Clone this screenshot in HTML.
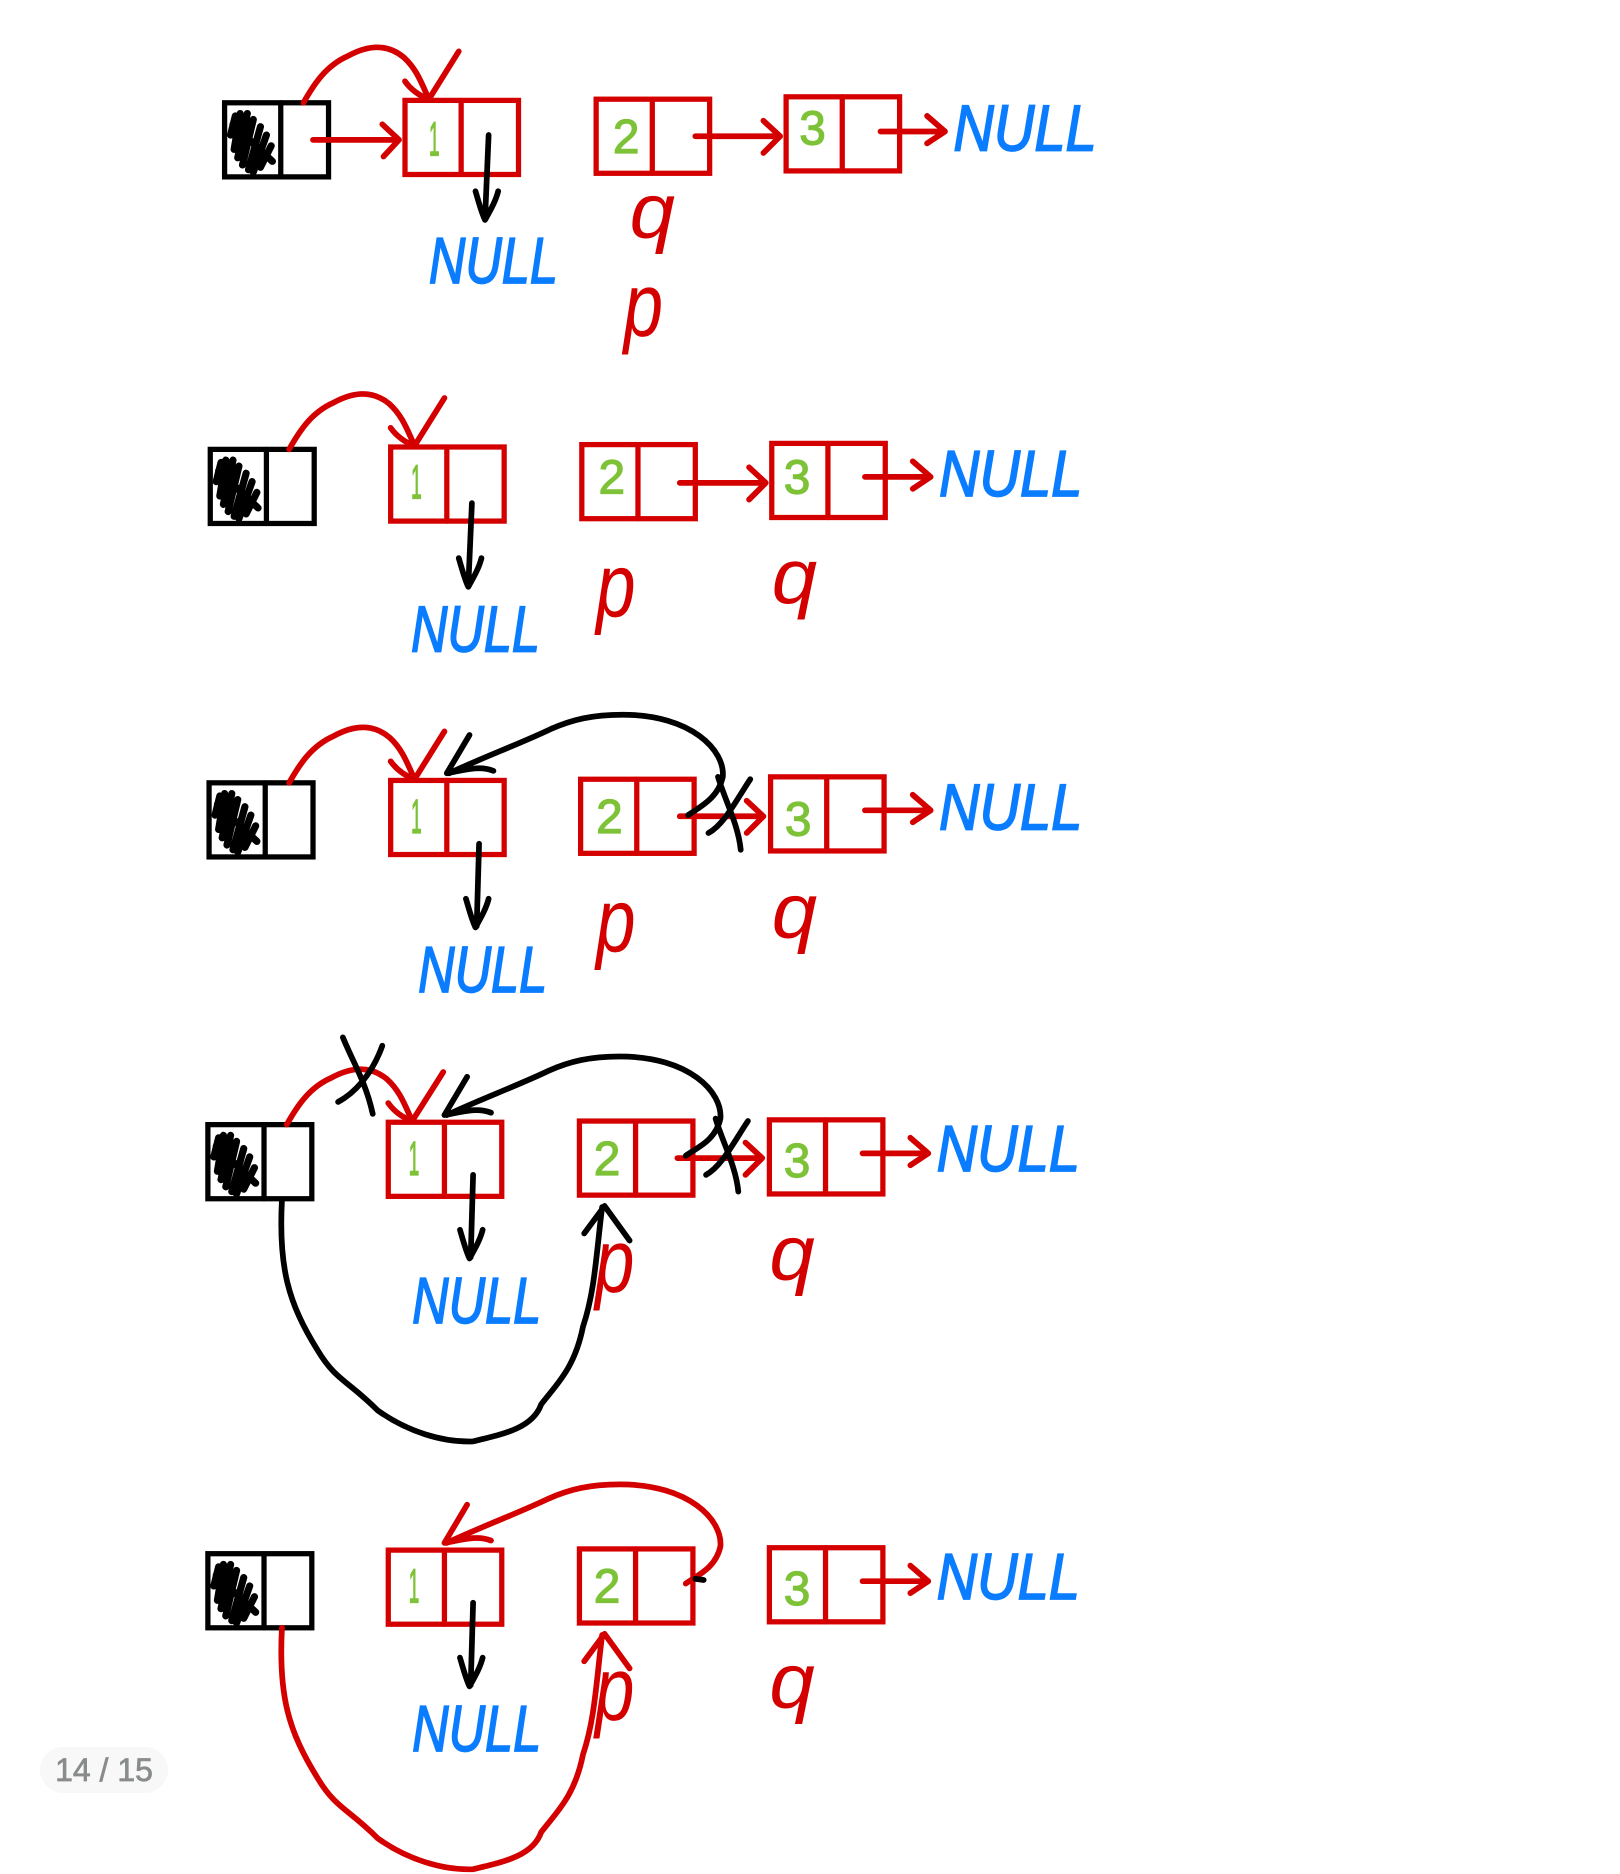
<!DOCTYPE html>
<html><head><meta charset="utf-8"><style>
html,body{margin:0;padding:0;background:#fff;width:1620px;height:1874px;overflow:hidden;position:relative}
svg{position:absolute;left:0;top:0}
.pill{position:absolute;left:40px;top:1747px;width:128px;height:46px;border-radius:23px;background:#f8f8f8;color:#888c8a;font:32px/46px "Liberation Sans",sans-serif;text-align:center;-webkit-text-stroke:.7px #888c8a}
.r,.k{fill:none;stroke-linecap:round;stroke-linejoin:round}
.r{stroke:#d40000;stroke-width:4.8}
.k{stroke:#000;stroke-width:4.8}
.n{font:italic 54px "Liberation Sans",sans-serif;fill:#0a7cff;stroke:#0a7cff;stroke-width:1.4}
.d{font:40px "Liberation Sans",sans-serif;fill:#7dc237;stroke:#7dc237;stroke-width:1}
.l{font:italic 75px "Liberation Sans",sans-serif;fill:#d40000}
.q{font-size:65px}
.b{fill:#fff;stroke:#000;stroke-width:4.4}
.x{fill:#fff;stroke:#d40000;stroke-width:4.4}
</style></head><body>
<svg width="1620" height="1874" viewBox="0 0 1356 1568" preserveAspectRatio="none" xmlns="http://www.w3.org/2000/svg">
<defs>
<g id="sc"><path d="M197 97 L193 113 M201 95 L196 125 M207 95 L199 132 M212 100 L203 138 M218 106 L208 142 M223 113 L212 144 M227 122 L218 140 M195 104L228 135" fill="none" stroke="#000" stroke-width="6" stroke-linecap="round"/></g>
<g id="bl"><rect class="b" x="188" y="86" width="87" height="62"/><path class="k" style="stroke-width:4.4" d="M235 86V148"/><use href="#sc"/></g>
<g id="nd"><rect class="x" x="0" y="0" width="95" height="62"/><path class="r" style="stroke-width:4.4" d="M47 0V62"/></g>
</defs>
<g transform="translate(1,0)">
<!-- Panel 1 -->
<use href="#bl" x="-1"/>
<use href="#nd" x="338" y="84"/><use href="#nd" x="498" y="83"/><use href="#nd" x="657" y="81"/>
<path class="r" d="M253 86C262 70 272 55 290 47C310 36 325 38 337 48C348 58 352 70 358 83M338 68C343 75 350 80 358 83M383 43L358 83"/>
<path class="r" d="M261 117H332M319 104L333 117L320 131"/>
<path class="r" d="M581 114H650M638 101L652 114L638 128"/>
<path class="r" d="M736 110H788M775 97L790 110L775 120"/>
<path class="k" d="M408 113L405 183M397 160C400 170 402 178 405 184C410 175 414 168 416 160"/>
<text class="d" x="358" y="130" textLength="9" lengthAdjust="spacingAndGlyphs">1</text><text class="d" x="512" y="128">2</text><text class="d" x="668" y="121">3</text>
<text class="n" x="797" y="126" textLength="120" lengthAdjust="spacingAndGlyphs">NULL</text>
<text class="n" x="358" y="237" textLength="108" lengthAdjust="spacingAndGlyphs">NULL</text>
<text class="l q" x="526" y="199" textLength="38" lengthAdjust="spacingAndGlyphs">q</text>
<text class="l" x="521" y="281" textLength="33" lengthAdjust="spacingAndGlyphs">p</text>

<!-- Panel 2 -->
<use href="#bl" x="-13" y="290"/>
<use href="#nd" x="326" y="374"/><use href="#nd" x="486" y="372"/><use href="#nd" x="645" y="371"/>
<path class="r" d="M241 376C250 360 260 345 278 337C298 326 313 328 325 338C336 348 340 360 346 373M326 358C331 365 338 370 346 373M371 333L346 373"/>
<path class="r" d="M568 404H638M626 391L640 404L626 418"/>
<path class="r" d="M723 399H776M763 386L778 399L763 409"/>
<path class="k" d="M394 421L391 490M383 467C386 477 388 485 391 491C396 482 400 475 402 467"/>
<text class="d" x="343" y="417" textLength="9" lengthAdjust="spacingAndGlyphs">1</text><text class="d" x="500" y="413">2</text><text class="d" x="655" y="413">3</text>
<text class="n" x="785" y="415" textLength="120" lengthAdjust="spacingAndGlyphs">NULL</text>
<text class="n" x="343" y="545" textLength="108" lengthAdjust="spacingAndGlyphs">NULL</text>
<text class="l" x="498" y="516" textLength="33" lengthAdjust="spacingAndGlyphs">p</text>
<text class="l q" x="645" y="505" textLength="38" lengthAdjust="spacingAndGlyphs">q</text>

<!-- Panel 3 -->
<use href="#bl" x="-14" y="569"/>
<use href="#nd" x="326" y="653"/><use href="#nd" x="485" y="652"/><use href="#nd" x="644" y="650"/>
<path class="r" d="M241 655C250 639 260 624 278 616C298 605 313 607 325 617C336 627 340 639 346 652M326 637C331 644 338 649 346 652M371 612L346 652"/>
<path class="r" d="M568 683H635M624 670L638 683L624 697"/>
<path class="r" d="M723 678H776M763 665L778 678L763 688"/>
<path class="k" d="M400 706L398 775M389 752C392 762 394 770 397 776C402 767 406 760 408 752"/>
<path class="k" d="M575 682C585 675 600 668 604 650C606 628 578 598 520 598C495 598 478 602 460 610C435 622 400 635 375 647M392 615L373 647C385 645 400 640 412 645M600 650C606 670 617 690 619 711M627 652C615 670 605 690 592 697"/>
<text class="d" x="343" y="697" textLength="9" lengthAdjust="spacingAndGlyphs">1</text><text class="d" x="498" y="697">2</text><text class="d" x="656" y="699">3</text>
<text class="n" x="785" y="694" textLength="120" lengthAdjust="spacingAndGlyphs">NULL</text>
<text class="n" x="349" y="830" textLength="108" lengthAdjust="spacingAndGlyphs">NULL</text>
<text class="l" x="498" y="796" textLength="33" lengthAdjust="spacingAndGlyphs">p</text>
<text class="l q" x="645" y="785" textLength="38" lengthAdjust="spacingAndGlyphs">q</text>

<!-- Panel 4 -->
<use href="#bl" x="-15" y="855"/>
<use href="#nd" x="324" y="939"/><use href="#nd" x="484" y="938"/><use href="#nd" x="643" y="937"/>
<path class="r" d="M239 941C248 925 258 910 276 902C296 891 311 893 323 903C334 913 338 925 344 938M324 923C329 930 336 935 344 938M370 897L344 938"/>
<path class="r" d="M566 969H634M623 956L637 969L623 983"/>
<path class="r" d="M721 965H774M761 952L776 965L761 975"/>
<path class="k" d="M395 983L393 1052M384 1029C387 1039 389 1047 392 1053C397 1044 401 1037 403 1029"/>
<path class="k" d="M573 967C583 960 598 954 602 936C604 914 576 884 518 884C493 884 476 888 458 896C433 908 398 921 373 933M390 901L371 933C383 931 398 926 410 931M598 936C604 956 615 976 617 997M625 938C613 956 603 976 590 983"/>
<path class="k" d="M286 868C295 890 305 905 311 932M319 875C310 900 295 915 282 922"/>
<path class="k" d="M235 1004C232 1060 240 1090 265 1130C280 1155 290 1155 315 1180C340 1198 370 1207 395 1206C420 1200 445 1195 452 1175C465 1158 480 1145 487 1110C497 1080 498 1050 503 1010M488 1032L505 1009L526 1038"/>
<text class="d" x="341" y="983" textLength="9" lengthAdjust="spacingAndGlyphs">1</text><text class="d" x="496" y="983">2</text><text class="d" x="655" y="985">3</text>
<text class="n" x="783" y="980" textLength="120" lengthAdjust="spacingAndGlyphs">NULL</text>
<text class="n" x="344" y="1107" textLength="108" lengthAdjust="spacingAndGlyphs">NULL</text>
<text class="l" x="497" y="1081" textLength="33" lengthAdjust="spacingAndGlyphs">p</text>
<text class="l q" x="643" y="1071" textLength="38" lengthAdjust="spacingAndGlyphs">q</text>

<!-- Panel 5 -->
<use href="#bl" x="-15" y="1214"/>
<use href="#nd" x="324" y="1297"/><use href="#nd" x="484" y="1296"/><use href="#nd" x="643" y="1295"/>
<path class="r" d="M721 1323H774M761 1310L776 1323L761 1333"/>
<path class="k" d="M395 1341L393 1410M384 1387C387 1397 389 1405 392 1411C397 1402 401 1395 403 1387"/>
<path class="r" d="M573 1325C583 1318 598 1312 602 1294C604 1272 576 1242 518 1242C493 1242 476 1246 458 1254C433 1266 398 1279 373 1291M390 1259L371 1291C383 1289 398 1284 410 1289"/>
<path class="k" d="M581 1321L588 1322"/>
<path class="r" d="M235 1362C232 1418 240 1448 265 1488C280 1513 290 1513 315 1538C340 1556 370 1565 395 1564C420 1558 445 1553 452 1533C465 1516 480 1503 487 1468C497 1438 498 1408 503 1368M488 1390L505 1367L526 1396"/>
<text class="d" x="341" y="1341" textLength="9" lengthAdjust="spacingAndGlyphs">1</text><text class="d" x="496" y="1341">2</text><text class="d" x="655" y="1343">3</text>
<text class="n" x="783" y="1338" textLength="120" lengthAdjust="spacingAndGlyphs">NULL</text>
<text class="n" x="344" y="1465" textLength="108" lengthAdjust="spacingAndGlyphs">NULL</text>
<text class="l" x="497" y="1439" textLength="33" lengthAdjust="spacingAndGlyphs">p</text>
<text class="l q" x="643" y="1429" textLength="38" lengthAdjust="spacingAndGlyphs">q</text>
</g>
</svg>
<div class="pill">14 / 15</div>
</body></html>
